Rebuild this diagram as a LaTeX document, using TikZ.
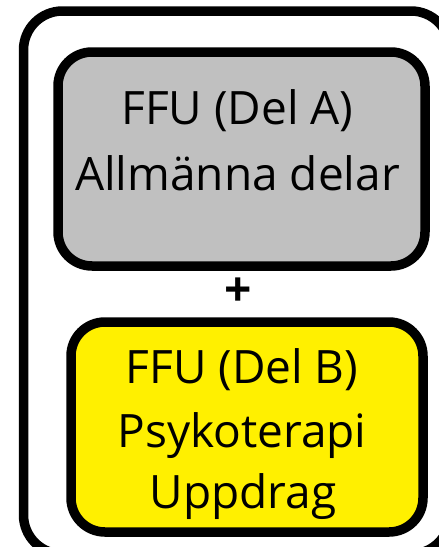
\documentclass[tikz,border=0pt]{standalone}
\usepackage{fontspec}
\setmainfont{Open Sans}
\begin{document}
\begin{tikzpicture}[x=1pt,y=-1pt,
  boxline/.style={line width=9.5pt, rounded corners=34pt},
  lbl/.style={anchor=base, inner sep=0pt, font=\fontsize{46}{54}\selectfont},
]
\useasboundingbox (0,0) rectangle (439,547);
\begin{scope}
\clip (0,0) rectangle (439,547);
\draw[boxline, rounded corners=39pt] (23.5,11) rectangle (450,554);
\end{scope}
\draw[boxline, fill={rgb,255:red,192;green,192;blue,192}] (58,52) rectangle (425,266);
\draw[boxline, fill={rgb,255:red,255;green,240;blue,0}] (71,322) rectangle (423,532);
\node[lbl] (a1) at (237.5,124) {FFU (Del A)};
\node[lbl] (a2) at (237.5,190) {Allmänna delar};
\node[lbl, font=\fontsize{48}{56}\bfseries] (plus) at (238.5,306) {+};
\node[lbl] (b1) at (242,383) {FFU (Del B)};
\node[lbl] (b2) at (242,447) {Psykoterapi};
\node[lbl] (b3) at (243,508) {Uppdrag};
\end{tikzpicture}
\end{document}
